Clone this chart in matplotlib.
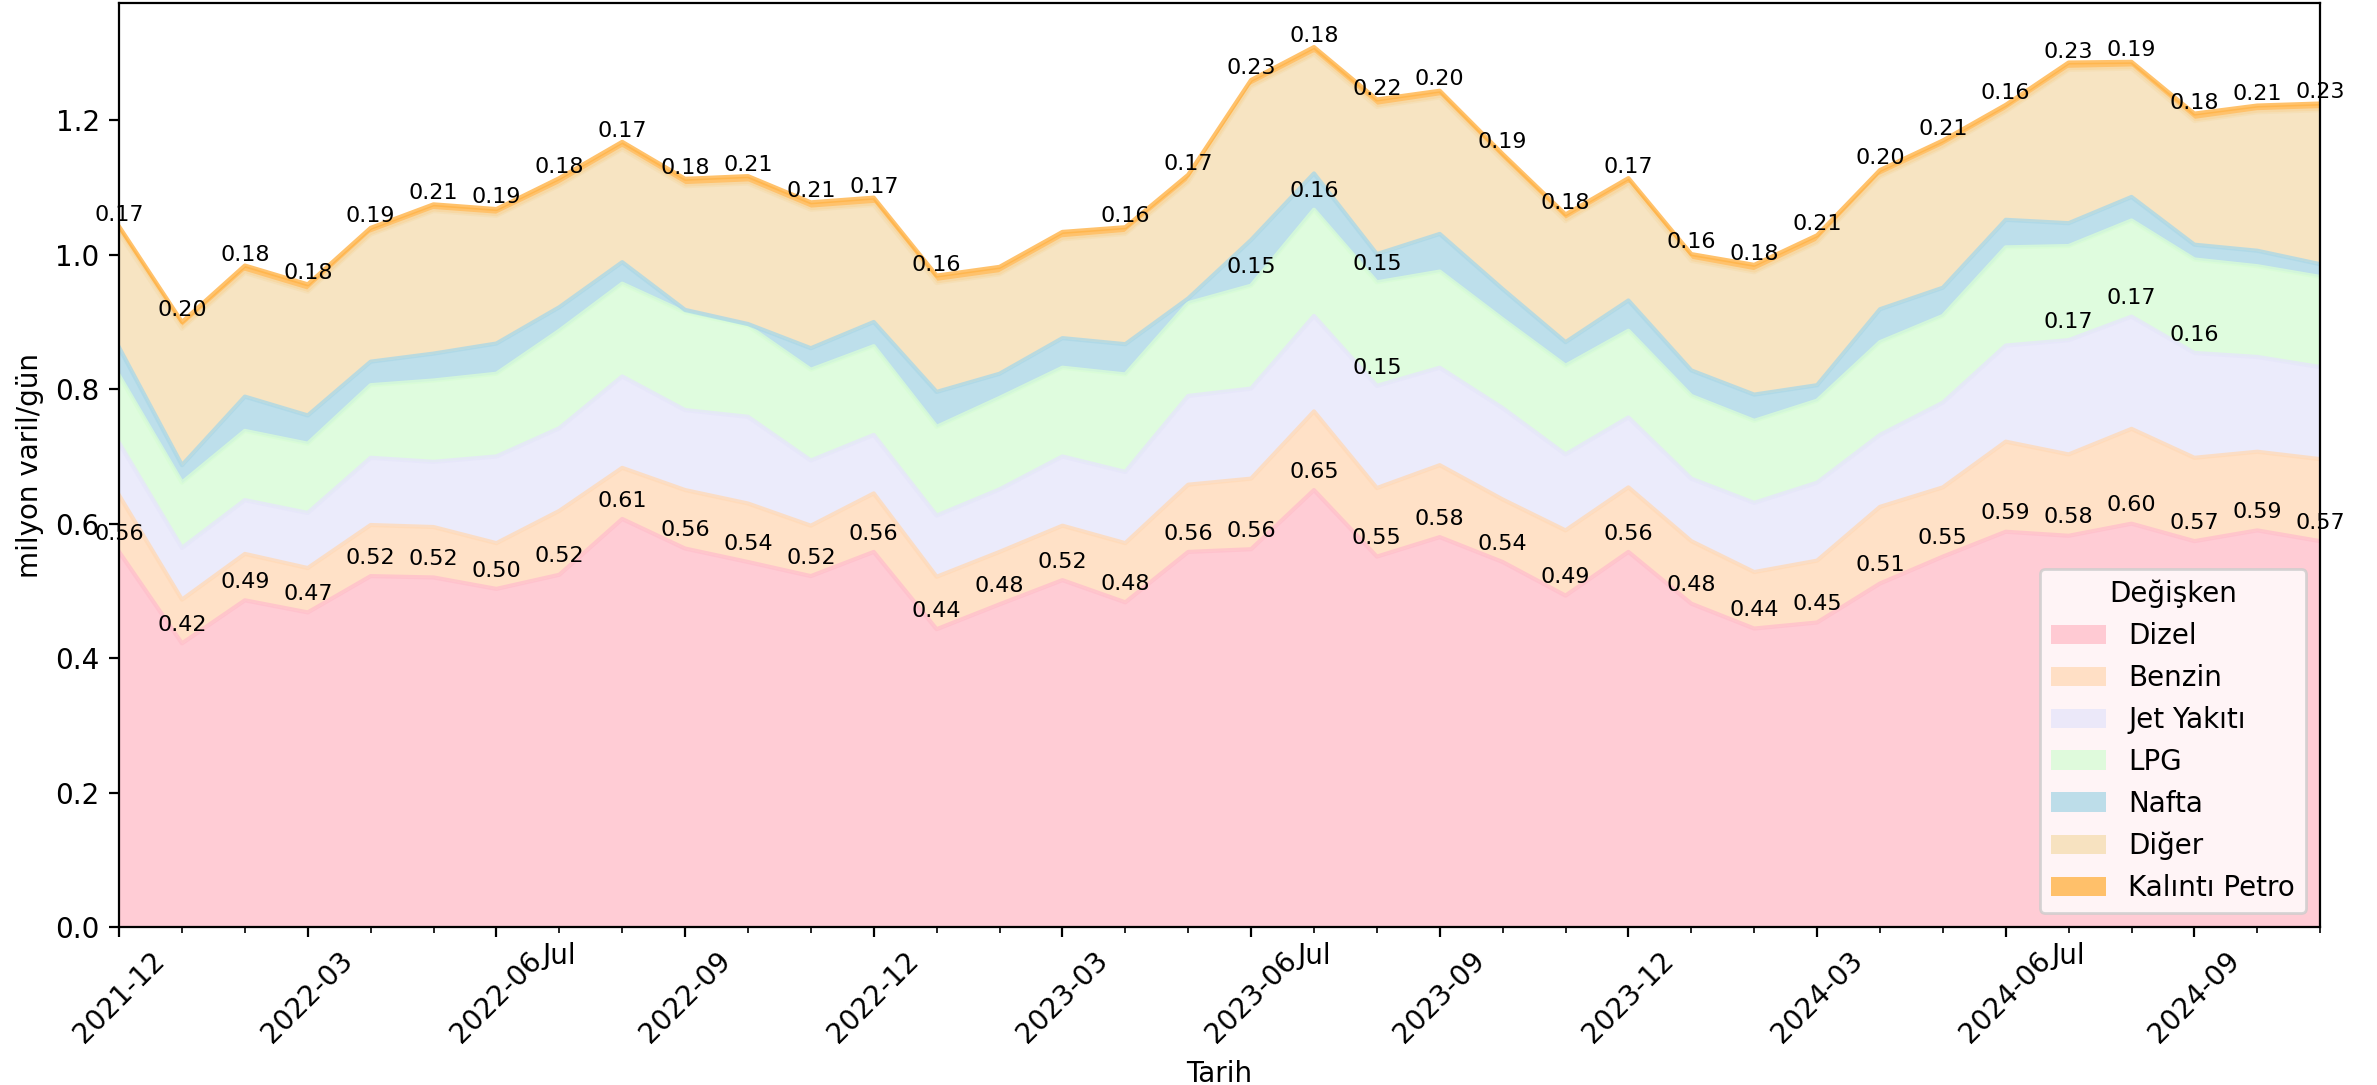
import numpy as np
import pandas as pd
import matplotlib
matplotlib.use("Agg")
import matplotlib.pyplot as plt
import matplotlib.patches as mpatches

# Monthly product consumption, million barrels per day
months = pd.period_range(start="2021-12", periods=36, freq="M")

dizel = [0.558, 0.422, 0.486, 0.468, 0.522, 0.520, 0.503, 0.524, 0.607, 0.563, 0.543, 0.522,
         0.558, 0.443, 0.480, 0.516, 0.483, 0.558, 0.562, 0.650, 0.551, 0.580, 0.543, 0.493,
         0.558, 0.481, 0.444, 0.453, 0.511, 0.551, 0.588, 0.582, 0.600, 0.574, 0.590, 0.574]
benzin = [0.084, 0.065, 0.069, 0.066, 0.076, 0.075, 0.068, 0.095, 0.076, 0.087, 0.087, 0.075,
          0.087, 0.078, 0.078, 0.081, 0.088, 0.100, 0.105, 0.117, 0.102, 0.107, 0.093, 0.097,
          0.096, 0.093, 0.084, 0.092, 0.114, 0.103, 0.134, 0.121, 0.141, 0.124, 0.117, 0.122]
jet = [0.078, 0.077, 0.080, 0.082, 0.100, 0.097, 0.129, 0.123, 0.136, 0.119, 0.129, 0.097,
       0.087, 0.091, 0.093, 0.103, 0.106, 0.132, 0.134, 0.142, 0.152, 0.145, 0.136, 0.113,
       0.104, 0.093, 0.103, 0.116, 0.107, 0.126, 0.143, 0.170, 0.167, 0.156, 0.141, 0.137]
lpg = [0.100, 0.097, 0.103, 0.103, 0.108, 0.121, 0.123, 0.145, 0.138, 0.145, 0.135, 0.135,
       0.132, 0.132, 0.136, 0.132, 0.145, 0.138, 0.153, 0.158, 0.154, 0.143, 0.132, 0.132,
       0.129, 0.123, 0.122, 0.122, 0.138, 0.129, 0.146, 0.140, 0.143, 0.139, 0.135, 0.134]
nafta = [0.042, 0.026, 0.051, 0.042, 0.035, 0.040, 0.045, 0.035, 0.032, 0.004, 0.003, 0.032,
         0.036, 0.052, 0.036, 0.044, 0.045, 0.007, 0.068, 0.054, 0.042, 0.056, 0.045, 0.035,
         0.045, 0.038, 0.039, 0.023, 0.049, 0.042, 0.041, 0.034, 0.035, 0.022, 0.023, 0.019]
diger = [0.170, 0.203, 0.184, 0.184, 0.189, 0.212, 0.190, 0.181, 0.168, 0.184, 0.209, 0.206,
         0.174, 0.162, 0.148, 0.147, 0.164, 0.173, 0.228, 0.177, 0.219, 0.203, 0.191, 0.180,
         0.172, 0.163, 0.182, 0.212, 0.197, 0.209, 0.161, 0.228, 0.191, 0.184, 0.206, 0.229]
kalinti = [0.010, 0.010, 0.011, 0.011, 0.010, 0.010, 0.010, 0.011, 0.011, 0.011, 0.011, 0.011,
           0.011, 0.011, 0.011, 0.011, 0.010, 0.011, 0.010, 0.011, 0.011, 0.010, 0.010, 0.010,
           0.010, 0.010, 0.011, 0.011, 0.010, 0.010, 0.010, 0.011, 0.010, 0.011, 0.010, 0.010]

series_names = ["Dizel", "Benzin", "Jet Yakıtı", "LPG", "Nafta", "Diğer", "Kalıntı Petro"]
series_values = [dizel, benzin, jet, lpg, nafta, diger, kalinti]
colors = ["#FFC0CB", "#FFDAB9", "#E6E6FA", "#D8FCD6", "#ADD8E6", "#F5DEB3", "#FFB347"]
alpha = 0.8
label_threshold = 0.15

fig = plt.figure(figsize=(2377 / 200, 1085 / 200), dpi=200)
ax = fig.add_axes([0.0501, 0.1456, 0.9260, 0.8516])

x = np.arange(len(months))
base = np.zeros(len(months))
tops = []
for vals, c in zip(series_values, colors):
    v = np.asarray(vals)
    upper = base + v
    ax.fill_between(x, base, upper, color=c, alpha=alpha, lw=0)
    ax.plot(x, upper, color=c, alpha=alpha, lw=1.5)
    tops.append(upper)
    base = upper

# value labels for the larger components, placed at each layer's top edge
for vals, upper in zip(series_values, tops):
    for i, v in enumerate(vals):
        if v >= label_threshold:
            ax.annotate(f"{v:.2f}", (x[i], upper[i]), xytext=(0, 3),
                        textcoords="offset points", ha="center", va="bottom",
                        fontsize=8, annotation_clip=False)

ax.set_xlim(x[0], x[-1])
ax.set_ylim(0, base.max() * 1.05)

# quarterly major ticks, monthly minor ticks with July marked
major_pos = [i for i, p in enumerate(months) if p.month in (3, 6, 9, 12)]
major_labels = [months[i].strftime("%Y-%m") for i in major_pos]
minor_pos = list(x)
minor_labels = ["Jul" if p.month == 7 else "" for p in months]
ax.set_xticks(major_pos)
ax.set_xticklabels(major_labels, rotation=45)
ax.set_xticks(minor_pos, minor=True)
ax.set_xticklabels(minor_labels, minor=True)

ax.set_xlabel("Tarih")
ax.set_ylabel("milyon varil/gün")

handles = [mpatches.Patch(facecolor=c, alpha=alpha, edgecolor="none") for c in colors]
ax.legend(handles, series_names, title="Değişken", loc="lower right")

fig.savefig("out.png", dpi=200)
